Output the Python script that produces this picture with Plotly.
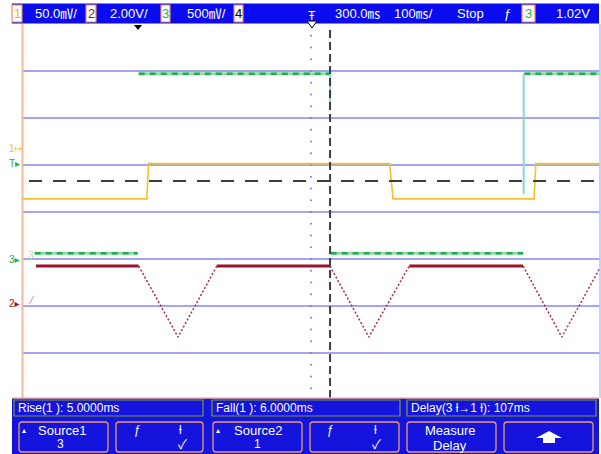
import plotly.graph_objects as go

# ---------------- data (oscilloscope units: time in ms, vertical in divisions) ----------------
ch1_time = [-200, 16, 19, 436, 442, 686, 689, 800]
ch1_div = [0.28, 0.28, 1.03, 1.03, 0.28, 0.28, 1.03, 1.03]

ch3_time = [-178, 0, None, 2, 333, None, 334, 667, None, 669, 800]
ch3_div = [-0.88, -0.88, None, 2.94, 2.94, None, -0.88, -0.88, None, 2.94, 2.94]
ch3_edge_time = [333, 333, None, 668, 668]
ch3_edge_div = [2.94, 2.3, None, 0.38, 2.94]

ch2_flat_time = [-176, 2, None, 137, 333, None, 470, 667]
ch2_flat_div = [-1.15, -1.15, None, -1.15, -1.15, None, -1.15, -1.15]
ch2_ramp_time = [2, 70, 137, None, 333, 400, 470, None, 667, 734, 800]
ch2_ramp_div = [-1.15, -2.66, -1.15, None, -1.15, -2.66, -1.15, None, -1.15, -2.66, -1.19]

cursor_time = 333
cursor_level_div = 0.66
trigger_time = 0
center_time = 300
ch1_gnd, trig_level, ch3_gnd, ch2_gnd = 1.36, 1.04, -1.0, -1.94

grid_divs = [-3, -2, -1, 0, 1, 2, 3]
center_ticks = [k / 4 for k in range(-16, 17)]

top_labels = ["50.0㎷/", "2.00V/", "500㎷/", "300.0㎳", "100㎳/", "Stop", "ƒ", "1.02V"]
meas_labels = ["Rise(1 ): 5.0000ms", "Fall(1 ): 6.0000ms", "Delay(3 ƚ→1 ƚ): 107ms"]

# ---------------- layout helpers (pixel -> paper) ----------------
W, H = 601, 454
def X(p): return p / W
def Y(p): return 1 - p / H

FONT = "Liberation Sans, Noto Sans CJK JP, DejaVu Sans"
YEL, RED, GRN, DGRN = "#f3c12a", "#9c1428", "#8fdca6", "#1fae4e"
BLUE, BLUE2 = "#0b0bef", "#1414dc"

fig = go.Figure()

# graticule centre dotted line
fig.add_trace(go.Scatter(x=[center_time] * len(center_ticks), y=center_ticks, mode="markers",
                         marker=dict(size=2, color="#7878ec"), hoverinfo="skip"))

# channel 3 (green)
fig.add_trace(go.Scatter(x=ch3_time, y=ch3_div, mode="lines", line=dict(color=GRN, width=3)))
fig.add_trace(go.Scatter(x=ch3_time, y=ch3_div, mode="lines",
                         line=dict(color=DGRN, width=2.5, dash="6px,5px")))
fig.add_trace(go.Scatter(x=ch3_edge_time, y=ch3_edge_div, mode="lines",
                         line=dict(color="#8ad8d4", width=2)))
# channel 1 (yellow)
fig.add_trace(go.Scatter(x=ch1_time, y=ch1_div, mode="lines", line=dict(color=YEL, width=1.6)))
# channel 2 (dark red)
fig.add_trace(go.Scatter(x=ch2_flat_time, y=ch2_flat_div, mode="lines", line=dict(color=RED, width=3)))
fig.add_trace(go.Scatter(x=ch2_ramp_time, y=ch2_ramp_div, mode="lines",
                         line=dict(color="#a82848", width=1.5, dash="2px,2px")))

shapes = []
for d in grid_divs:
    shapes.append(dict(type="line", xref="paper", yref="y", x0=X(23), x1=X(600), y0=d, y1=d,
                       line=dict(color="#a4a4f2", width=2), layer="below"))
shapes.append(dict(type="line", xref="paper", yref="paper", x0=X(22.5), x1=X(22.5), y0=Y(24), y1=Y(398),
                   line=dict(color="#f8b898", width=2)))
shapes.append(dict(type="line", xref="paper", yref="paper", x0=X(600), x1=X(600), y0=Y(24), y1=Y(398),
                   line=dict(color="#c0c0f4", width=1.5)))
shapes.append(dict(type="line", xref="x", yref="paper", x0=cursor_time, x1=cursor_time, y0=Y(398), y1=Y(26),
                   line=dict(color="#3c3c3c", width=2, dash="8px,4px"), layer="above"))
shapes.append(dict(type="line", xref="paper", yref="y", x0=X(29), x1=X(600), y0=cursor_level_div,
                   y1=cursor_level_div, line=dict(color="#3c3c3c", width=2, dash="13px,11px"), layer="above"))

shapes.append(dict(type="rect", xref="paper", yref="paper", x0=X(12), x1=X(599), y0=Y(3.5), y1=Y(23.5),
                   fillcolor=BLUE, line=dict(width=0)))
shapes.append(dict(type="rect", xref="paper", yref="paper", x0=X(12), x1=X(599), y0=Y(398), y1=Y(454),
                   fillcolor=BLUE2, line=dict(width=0)))
shapes.append(dict(type="line", xref="paper", yref="paper", x0=X(12), x1=X(599), y0=Y(398), y1=Y(398),
                   line=dict(color="#f8b898", width=1.5)))

annotations = []
def txt(x, y, t, size=13, color="white", xanchor="center", yref="paper"):
    annotations.append(dict(x=X(x), y=(Y(y) if yref == "paper" else y), xref="paper", yref=yref, text=t,
                            showarrow=False, xanchor=xanchor, yanchor="middle",
                            font=dict(family=FONT, size=size, color=color)))

chan_boxes = [(12, 22, "1", "#e8b800"), (86, 96, "2", RED), (161, 170, "3", "#28b050"),
              (234, 243, "4", "#000000"), (522, 535, "3", "#28b050")]
for x0, x1, t, c in chan_boxes:
    shapes.append(dict(type="rect", xref="paper", yref="paper", x0=X(x0), x1=X(x1), y0=Y(5), y1=Y(22),
                       fillcolor="white", line=dict(color="#f08a50", width=1.2)))
    txt((x0 + x1) / 2, 13.5, t, 13, c)

top_pos = [33, 108, 185, 333, 392, 455, 502, 554]
for x0, t in zip(top_pos, top_labels):
    txt(x0, 13.5, t, 13, "white", "left")

shapes.append(dict(type="path", xref="paper", yref="paper",
                   path=f"M {X(134)},{Y(25)} L {X(142)},{Y(25)} L {X(138)},{Y(30)} Z",
                   fillcolor="black", line=dict(width=0)))
shapes.append(dict(type="path", xref="paper", yref="paper",
                   path=f"M {X(307)},{Y(21)} L {X(317)},{Y(21)} L {X(312)},{Y(28)} Z",
                   fillcolor="white", line=dict(color="black", width=1)))
txt(312, 16, "Ŧ", 12)

meas_boxes = [(14, 203), (212, 400), (407, 596)]
for (x0, x1), t in zip(meas_boxes, meas_labels):
    shapes.append(dict(type="rect", xref="paper", yref="paper", x0=X(x0), x1=X(x1), y0=Y(400), y1=Y(416),
                       fillcolor=BLUE2, line=dict(color="#7a9a3a", width=1.2)))
    txt(x0 + 2, 408, t, 12, "white", "left")

def rrect(x0, x1, y0, y1, r=3):
    return (f"M {X(x0 + r)},{Y(y0)} L {X(x1 - r)},{Y(y0)} Q {X(x1)},{Y(y0)} {X(x1)},{Y(y0 + r)} "
            f"L {X(x1)},{Y(y1 - r)} Q {X(x1)},{Y(y1)} {X(x1 - r)},{Y(y1)} L {X(x0 + r)},{Y(y1)} "
            f"Q {X(x0)},{Y(y1)} {X(x0)},{Y(y1 - r)} L {X(x0)},{Y(y0 + r)} Q {X(x0)},{Y(y0)} {X(x0 + r)},{Y(y0)} Z")

keys = [(19, 108), (116, 203), (213, 302), (310, 399), (407, 496), (504, 593)]
for x0, x1 in keys:
    shapes.append(dict(type="path", xref="paper", yref="paper", path=rrect(x0, x1, 422, 452),
                       fillcolor=BLUE2, line=dict(color="#f09870", width=1.3)))

key_texts = [
    (24, 430, "▴", 8), (62, 430, "Source1", 13), (60, 444, "3", 12),
    (137, 430, "ƒ", 12), (180, 430, "ƚ", 12), (182, 444, "✓", 13),
    (218, 430, "▴", 8), (258, 430, "Source2", 13), (257, 444, "1", 12),
    (330, 430, "ƒ", 12), (375, 430, "ƚ", 12), (376, 444, "✓", 13),
    (450, 430, "Measure", 13), (450, 445, "Delay", 13),
]
for x0, y0, t, s in key_texts:
    txt(x0, y0, t, s)
shapes.append(dict(type="path", xref="paper", yref="paper",
                   path=(f"M {X(549)},{Y(431)} L {X(562)},{Y(438)} L {X(555)},{Y(438)} L {X(555)},{Y(443)} "
                         f"L {X(543)},{Y(443)} L {X(543)},{Y(438)} L {X(536)},{Y(438)} Z"),
                   fillcolor="white", line=dict(width=0)))

left_marks = [(16, ch1_gnd, "1↦", YEL), (14, trig_level, "T▸", "#28b050"),
              (14, ch3_gnd, "3▸", "#28b050"), (14, ch2_gnd, "2▸", RED),
              (31, ch3_gnd + 0.08, "3", "#a0e0b0"), (31, ch2_gnd + 0.05, "⁄", "#c07080")]
for x0, yv, t, c in left_marks:
    txt(x0, yv, t, 10, c, "center", "y")

fig.update_layout(
    width=W, height=H, margin=dict(l=0, r=0, t=0, b=0),
    paper_bgcolor="white", plot_bgcolor="white", showlegend=False,
    xaxis=dict(range=[-200, 800], domain=[22 / W, 600 / W], visible=False, fixedrange=True),
    yaxis=dict(range=[-4, 4], domain=[54 / H, 430 / H], visible=False, fixedrange=True),
    shapes=shapes, annotations=annotations,
)
fig.write_html("out.html", config={"displayModeBar": False, "staticPlot": True},
               post_script="document.body.style.margin='0';document.body.style.overflow='hidden';")
